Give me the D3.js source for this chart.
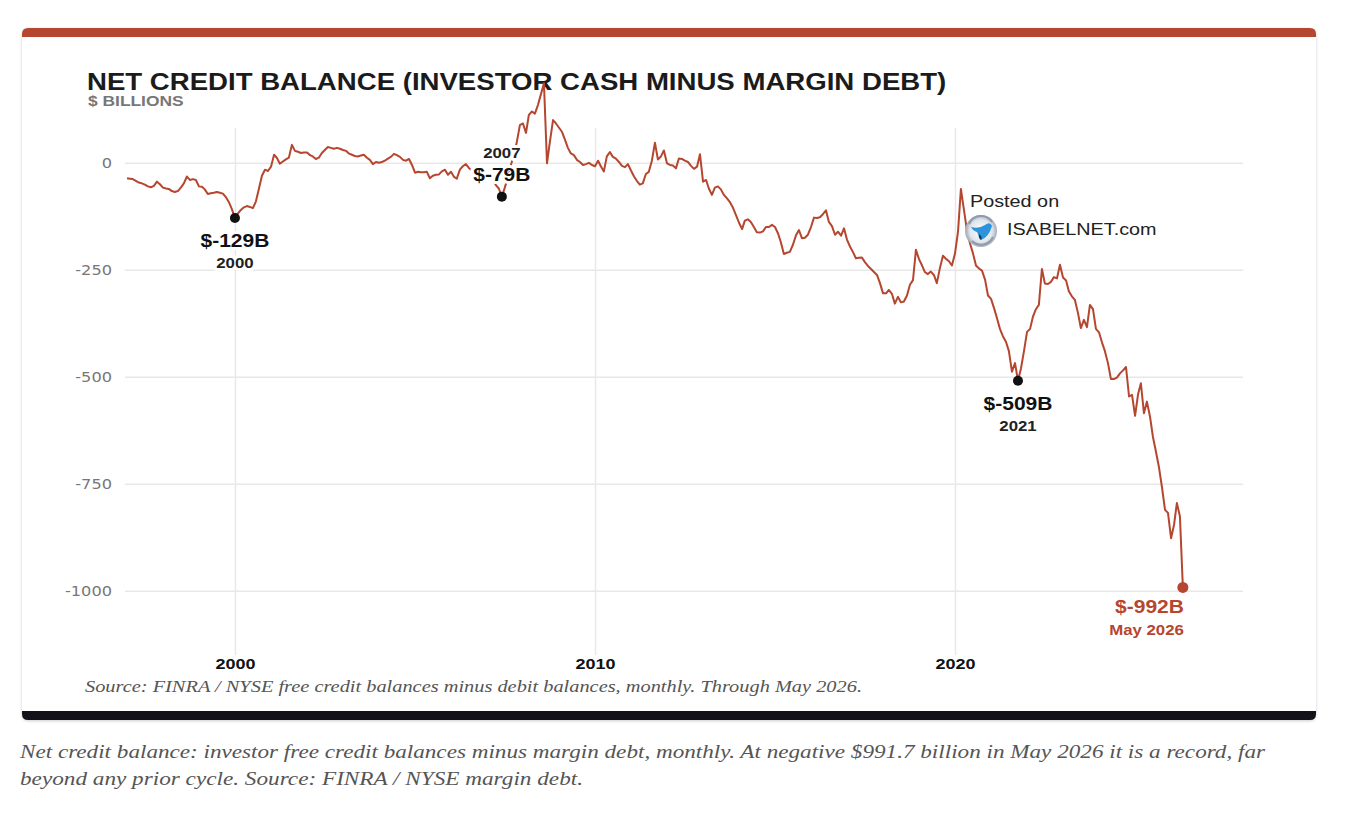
<!DOCTYPE html>
<meta charset="utf-8">
<html>
<head>
    <style>
        body {
            margin: 0;
            background: #fff;
        }

        svg text {
            font-family: 'Liberation Sans', Arial, sans-serif;
        }

        .grid line {
            stroke: #e8e8e8;
            stroke-width: 1.5;
        }

        .grid path {
            display: none;
        }

        .halo {
            paint-order: stroke;
            stroke: #fff;
            stroke-width: 6px;
            stroke-linejoin: round;
        }

        .serif {
            font-family: 'Liberation Serif', Georgia, serif !important;
            font-style: italic;
            fill: #555;
        }
    </style>
    <!-- load the d3.js library -->
    <script src="https://cdn.jsdelivr.net/npm/d3@7"></script>
</head>

<body>
    <svg id="chart" width="1348" height="830"></svg>

    <script>
        // monthly net credit balance, $ billions, starting Jan 1997
        var startMonth = "1997-01";
        var netCredit = [
            -36, -37, -38, -42, -46, -48, -51, -55, -57, -54, -44, -50,          // 1997
            -58, -60, -61, -66, -68, -66, -58, -48, -32, -40, -38, -40,          // 1998
            -55, -56, -62, -73, -71, -70, -68, -70, -72, -80, -92, -108,         // 1999
            -129, -118, -110, -104, -101, -103, -106, -90, -60, -30, -16, -19,   // 2000
            -9, 19, 12, -2, 3, 8, 12, 42, 28, 26, 23, 24,                        // 2001
            24, 18, 15, 9, 12, 23, 30, 37, 35, 33, 35, 33,                       // 2002
            30, 28, 22, 19, 16, 15, 17, 19, 12, 7, -3, 2,                        // 2003
            0, 2, 5, 10, 14, 21, 18, 14, 7, 5, 9, -5,                            // 2004
            -23, -21, -22, -22, -21, -36, -30, -28, -27, -20, -16, -28,          // 2005
            -21, -33, -37, -16, -8, -3, -12, -18, -22, -25, -28, -30,            // 2006
            -32, -34, -38, -52, -60, -79, -58, -34, -5, 19, 50, 88,              // 2007
            92, 70, 112, 120, 115, 135, 160, 186, -1, 50, 100, 92,               // 2008
            82, 72, 55, 35, 22, 18, 7, 2, -5, -3, 0, -5,                         // 2009
            -8, 5, -8, -20, 15, 25, 14, 10, 2, -7, -10, -3,                      // 2010
            -18, -32, -42, -51, -48, -26, -21, 5, 47, 8, 15, 29,                 // 2011
            -1, -5, -6, -13, 10, 9, 5, 2, -7, -14, -9, 20,                       // 2012
            -44, -40, -60, -75, -58, -55, -62, -75, -83, -92, -105, -122,        // 2013
            -140, -155, -135, -132, -138, -150, -162, -163, -160, -150, -150, -145, // 2014
            -150, -165, -185, -213, -210, -208, -192, -170, -157, -176, -175, -168, // 2015
            -150, -128, -129, -127, -120, -111, -138, -148, -168, -161, -170, -153, // 2016
            -180, -196, -208, -223, -222, -221, -232, -241, -248, -255, -262, -281, // 2017
            -305, -305, -297, -306, -329, -313, -326, -324, -310, -285, -274, -203, // 2018
            -225, -240, -255, -260, -254, -262, -281, -246, -217, -224, -230, -240, // 2019
            -212, -160, -61, -110, -157, -188, -211, -240, -247, -252, -273, -310,  // 2020
            -318, -340, -362, -388, -405, -418, -440, -488, -468, -509, -480, -440, // 2021
            -395, -388, -360, -342, -332, -248, -282, -283, -278, -267, -270, -238, // 2022
            -268, -275, -300, -312, -320, -350, -386, -367, -384, -332, -342, -388, // 2023
            -396, -420, -440, -468, -505, -505, -502, -492, -485, -477, -546, -542, // 2024
            -591, -540, -515, -585, -558, -592, -640, -675, -712, -758, -811, -818, // 2025
            -877, -845, -795, -826, -992                                          // 2026
        ];

        var yTicks = [0, -250, -500, -750, -1000];
        var xTicks = ["2000", "2010", "2020"];

        // lows that get a black dot and a label
        var calloutMonths = ["2000-01", "2007-06", "2021-10"];
        var calloutLabels = ["$-129B", "$-79B", "$-509B"];
        var calloutYears = ["2000", "2007", "2021"];
        var lastLabel = "$-992B";
        var lastDateLabel = "May 2026";

        var titleText = "NET CREDIT BALANCE (INVESTOR CASH MINUS MARGIN DEBT)";
        var unitText = "$ BILLIONS";
        var sourceText = "Source: FINRA / NYSE free credit balances minus debit balances, monthly. Through May 2026.";
        var captionLines = [
            "Net credit balance: investor free credit balances minus margin debt, monthly. At negative $991.7 billion in May 2026 it is a record, far",
            "beyond any prior cycle. Source: FINRA / NYSE margin debt."
        ];

        var parseMonth = d3.timeParse("%Y-%m");
        var start = parseMonth(startMonth);
        var data = netCredit.map(function (v, i) {
            return { date: d3.timeMonth.offset(start, i), value: v };
        });

        // the original picture looks stretched sideways, text too
        var sx = 1.2;
        var red = "#b5462f";

        var svg = d3.select("#chart");

        function stretchText(g, px, py, str, anchor) {
            return g.append("text")
                .attr("transform", "translate(" + px + "," + py + ") scale(" + sx + ",1)")
                .attr("text-anchor", anchor || "start")
                .text(str);
        }

        // card with red top and black bottom
        var defs = svg.append("defs");
        defs.append("filter").attr("id", "shadow")
            .attr("x", "-5%").attr("y", "-5%").attr("width", "110%").attr("height", "110%")
            .append("feDropShadow")
            .attr("dx", 0).attr("dy", 1).attr("stdDeviation", 1.5)
            .attr("flood-color", "#000").attr("flood-opacity", 0.2);

        svg.append("rect")
            .attr("x", 22).attr("y", 28).attr("width", 1294).attr("height", 692)
            .attr("rx", 6).attr("fill", "#fff").attr("filter", "url(#shadow)");
        svg.append("path")
            .attr("d", "M22,37 V34 Q22,28 28,28 H1310 Q1316,28 1316,34 V37 Z")
            .attr("fill", red);
        svg.append("path")
            .attr("d", "M22,711 H1316 V714 Q1316,720 1310,720 H28 Q22,720 22,714 Z")
            .attr("fill", "#121218");

        // scales
        var x = d3.scaleTime()
            .domain([parseMonth("1997-01"), parseMonth("2028-01")])
            .range([127, 1243]);
        var y = d3.scaleLinear()
            .domain([-1150, 80])
            .range([655, 128.6]);

        // Y axis + horizontal grid
        var yAxis = svg.append("g")
            .attr("class", "grid")
            .attr("transform", "translate(125,0)")
            .call(d3.axisLeft(y)
                .tickValues(yTicks)
                .tickSize(-1118)
                .tickPadding(0)
                .tickFormat(function (d) { return String(d); }));
        yAxis.selectAll("text")
            .attr("x", -13 / sx)
            .attr("transform", "scale(" + sx + ",1)")
            .style("font-family", "'DejaVu Sans', Verdana, sans-serif")
            .style("font-size", "13.5px")
            .style("fill", "#777");

        // X axis + vertical grid
        var xAxis = svg.append("g")
            .attr("class", "grid")
            .attr("transform", "translate(0,655)")
            .call(d3.axisBottom(x)
                .tickValues(xTicks.map(d3.timeParse("%Y")))
                .tickSize(-527)
                .tickFormat(function (d, i) { return xTicks[i]; }));
        xAxis.selectAll("text")
            .attr("y", 14).attr("dy", null)
            .attr("transform", "scale(" + sx + ",1)")
            .style("font-family", "'Liberation Sans', Arial, sans-serif")
            .style("font-size", "15px")
            .style("font-weight", "bold")
            .style("fill", "#111");

        // title (the line runs over it)
        stretchText(svg, 87, 90, titleText)
            .style("font-size", "23px").style("font-weight", "bold").style("fill", "#1b1b1b");
        stretchText(svg, 88, 106, unitText)
            .style("font-size", "14.5px").style("font-weight", "bold").style("fill", "#777");

        // the line
        var line = d3.line()
            .x(function (d) { return x(d.date); })
            .y(function (d) { return y(d.value); });

        svg.append("path")
            .datum(data)
            .attr("d", line)
            .attr("fill", "none")
            .attr("stroke", red)
            .attr("stroke-width", 2)
            .attr("stroke-linejoin", "round");

        // callouts
        calloutMonths.forEach(function (m, i) {
            var date = parseMonth(m);
            var pt = data.find(function (d) { return +d.date === +date; });
            var cx = x(pt.date), cy = y(pt.value);
            svg.append("circle").attr("cx", cx).attr("cy", cy).attr("r", 5).attr("fill", "#111");

            var above = (i === 1);
            stretchText(svg, cx, above ? cy - 16 : cy + 29, calloutLabels[i], "middle")
                .attr("class", "halo")
                .style("font-size", "17.5px").style("font-weight", "bold").style("fill", "#111");
            stretchText(svg, cx, above ? cy - 39 : cy + 50, calloutYears[i], "middle")
                .attr("class", "halo")
                .style("font-size", "14px").style("font-weight", "bold").style("fill", "#222");
        });

        // latest point
        var last = data[data.length - 1];
        var lx = x(last.date), ly = y(last.value);
        svg.append("circle").attr("cx", lx).attr("cy", ly).attr("r", 5.5).attr("fill", red);
        stretchText(svg, lx + 1, ly + 26, lastLabel, "end")
            .attr("class", "halo")
            .style("font-size", "17.5px").style("font-weight", "bold").style("fill", red);
        stretchText(svg, lx + 1, ly + 48, lastDateLabel, "end")
            .attr("class", "halo")
            .style("font-size", "14px").style("font-weight", "bold").style("fill", red);

        // watermark
        var logo = svg.append("g").attr("transform", "translate(981,231)");
        var grad = defs.append("radialGradient").attr("id", "logoGrad");
        grad.append("stop").attr("offset", "0%").attr("stop-color", "#ffffff");
        grad.append("stop").attr("offset", "70%").attr("stop-color", "#dfe4ec");
        grad.append("stop").attr("offset", "100%").attr("stop-color", "#9ea8b8");
        logo.append("circle").attr("r", 16).attr("fill", "url(#logoGrad)").attr("opacity", 0.95);
        logo.append("path")
            .attr("d", "M-12,-7 A13,13 0 0 1 11,-9 M12,6 A13,13 0 0 1 -9,10")
            .attr("fill", "none").attr("stroke", "#8f9aab").attr("stroke-width", 2);
        logo.append("path")
            .attr("d", "M-10,-4 Q-2,-2 4,-6 Q9,-10 11,-5 Q8,6 0,9 Q-3,4 -4,1 Q-8,0 -10,-4 Z")
            .attr("fill", "#2d93da");
        logo.append("path")
            .attr("d", "M-2,3 Q2,6 0,9 Q-3,7 -2,3 Z")
            .attr("fill", "#0d3d6b");
        stretchText(svg, 970, 207, "Posted on")
            .style("font-size", "16.5px").style("fill", "#222");
        stretchText(svg, 1007, 235, "ISABELNET.com")
            .style("font-size", "16.5px").style("fill", "#222");

        // source line inside the card
        svg.append("text")
            .attr("class", "serif")
            .attr("x", 85).attr("y", 692)
            .attr("textLength", 777).attr("lengthAdjust", "spacingAndGlyphs")
            .style("font-size", "16.5px")
            .text(sourceText);

        // caption below the card
        var captionWidths = [1245, 563];
        captionLines.forEach(function (t, i) {
            svg.append("text")
                .attr("class", "serif")
                .attr("x", 20).attr("y", 758 + i * 27)
                .attr("textLength", captionWidths[i]).attr("lengthAdjust", "spacingAndGlyphs")
                .style("font-size", "18.5px")
                .text(t);
        });
    </script>
</body>
</html>
